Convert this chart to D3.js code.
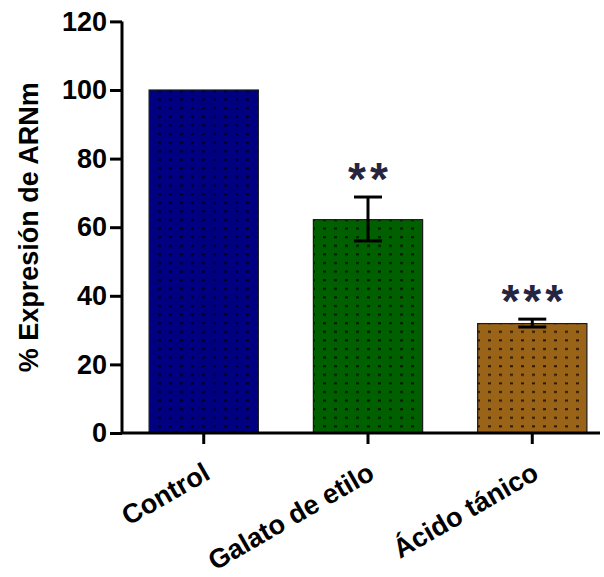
<!DOCTYPE html>
<html><head><meta charset="utf-8">
<script src="https://cdn.jsdelivr.net/npm/d3@7"></script>
<style>body{margin:0;background:#fff}</style>
</head><body>
<svg id="c" width="604" height="577"></svg>
<script>
const categories = ["Control", "Galato de etilo", "Ácido tánico"];
const values = [100, 62.2, 31.9];
const errLow = [100, 56.0, 30.9];
const errHigh = [100, 68.8, 33.2];
const signif = ["", "**", "***"];
const yTicks = [0, 20, 40, 60, 80, 100, 120];
const colors = ["#000080", "#006000", "#9a6418"];
const dotColors = ["#000020", "#001800", "#2a1805"];

const svg = d3.select("#c");
const font = "'Liberation Sans', Arial, sans-serif";
const y = d3.scaleLinear().domain([0, 120]).range([433, 21.4]);
const x = d3.scaleBand().domain(categories).range([122, 614]).paddingInner(0.335).paddingOuter(0.165);

const defs = svg.append("defs");
colors.forEach((c, i) => {
  const p = defs.append("pattern").attr("id", "p" + i).attr("patternUnits", "userSpaceOnUse")
    .attr("width", 11).attr("height", 8.6);
  p.append("rect").attr("width", 11).attr("height", 8.6).attr("fill", c);
  p.append("rect").attr("x", 4).attr("y", 4).attr("width", 3).attr("height", 2).attr("fill", dotColors[i]);
});

// bars
svg.selectAll(".bar").data(categories).enter().append("rect")
  .attr("x", d => x(d)).attr("width", x.bandwidth())
  .attr("y", (d, i) => y(values[i])).attr("height", (d, i) => y(0) - y(values[i]))
  .attr("fill", (d, i) => `url(#p${i})`).attr("stroke", "#1a1a1a").attr("stroke-width", 1.2);

// error bars
categories.forEach((d, i) => {
  if (errHigh[i] === errLow[i]) return;
  const cx = x(d) + x.bandwidth() / 2;
  const g = svg.append("g").attr("stroke", "#000").attr("stroke-width", 3);
  g.append("line").attr("x1", cx).attr("x2", cx).attr("y1", y(errHigh[i])).attr("y2", y(errLow[i]));
  g.append("line").attr("x1", cx - 14).attr("x2", cx + 14).attr("y1", y(errHigh[i])).attr("y2", y(errHigh[i]));
  g.append("line").attr("x1", cx - 14).attr("x2", cx + 14).attr("y1", y(errLow[i])).attr("y2", y(errLow[i]));
  svg.append("text").attr("x", cx + 2).attr("y", y(errHigh[i]) - 2)
    .attr("text-anchor", "middle").attr("font-family", font).attr("font-weight", "bold")
    .attr("font-size", 46).attr("letter-spacing", 4).attr("fill", "#25253f").text(signif[i]);
});

// y axis
const yAxis = d3.axisLeft(y).tickValues(yTicks).tickSize(12).tickPadding(3);
const gy = svg.append("g").attr("transform", "translate(122,0)").call(yAxis);
gy.select(".domain").attr("stroke-width", 3).attr("d", `M0,${y(120)}V${y(0)}`);
gy.selectAll(".tick line").attr("stroke-width", 3);
gy.selectAll(".tick text").attr("font-family", font).attr("font-weight", "bold").attr("font-size", 27).attr("fill", "#000");

// x axis
const xAxis = d3.axisBottom(x).tickSize(11).tickFormat("");
const gx = svg.append("g").attr("transform", `translate(0,${y(0)})`).call(xAxis);
gx.select(".domain").attr("stroke-width", 3).attr("d", "M122,0H600");
gx.selectAll(".tick line").attr("stroke-width", 3);

categories.forEach(d => {
  const cx = x(d) + x.bandwidth() / 2;
  svg.append("text").attr("transform", `translate(${cx + 8},${y(0) + 45}) rotate(-30)`)
    .attr("text-anchor", "end")
    .attr("font-family", font).attr("font-weight", "bold").attr("font-size", 27).text(d);
});

svg.append("text").attr("transform", `translate(38,${y(60)}) rotate(-90)`)
  .attr("text-anchor", "middle").attr("font-family", font).attr("font-weight", "bold")
  .attr("font-size", 27).text("% Expresión de ARNm");
</script>
</body></html>
